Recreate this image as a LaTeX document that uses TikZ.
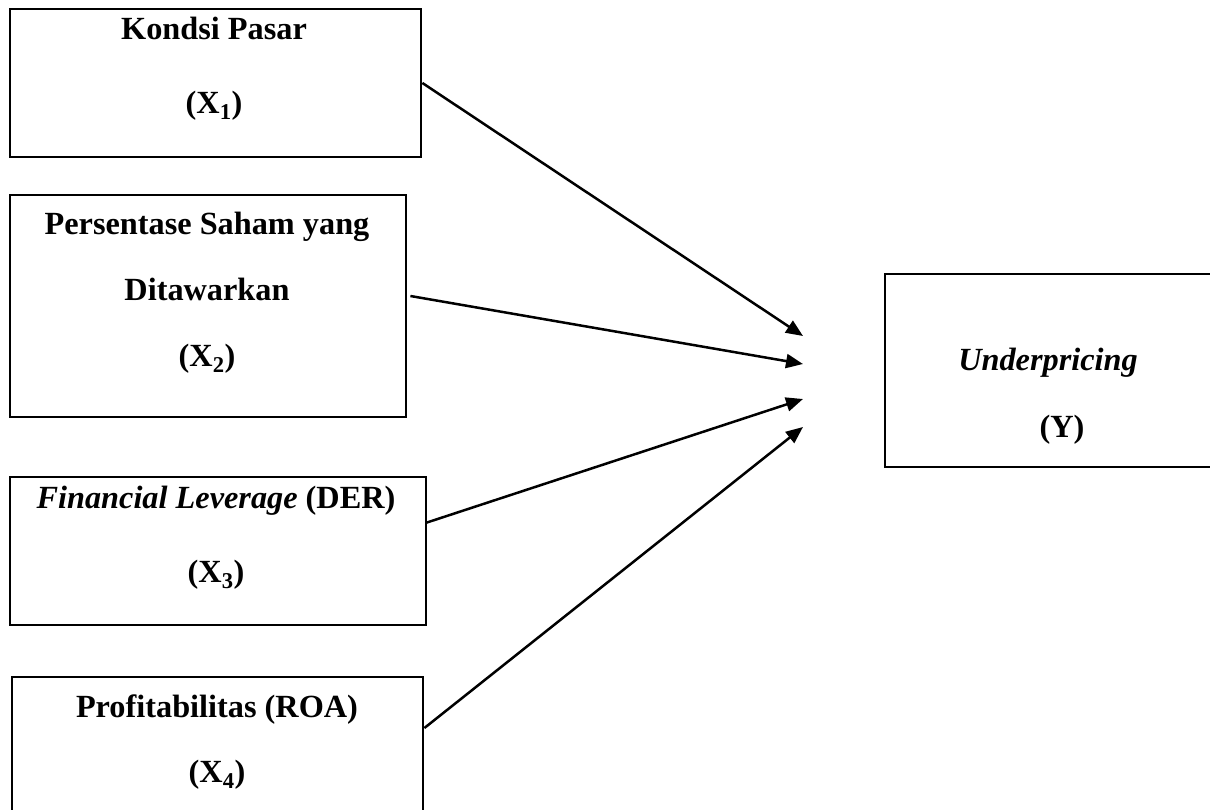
\documentclass[tikz,border=0pt]{standalone}
\usepackage{fontspec}
\setmainfont{Liberation Serif}
\usetikzlibrary{arrows.meta,calc}
\begin{document}
\begin{tikzpicture}[x=1pt,y=-1pt,
  box/.style={draw,line width=2.8pt,rectangle,inner sep=0pt},
  lbl/.style={anchor=base,inner sep=0pt,font=\fontsize{32.3}{36}\selectfont\bfseries},
  conn/.style={line width=2.5pt,-{Triangle[length=17pt,width=14pt]}}]
\useasboundingbox (0,0) rectangle (1210,809);
\clip (0,0) rectangle (1210,809);
% boxes
\node[box,minimum width=411pt,minimum height=148pt] (b1) at (215.5,83) {};
\node[box,minimum width=396pt,minimum height=222pt] (b2) at (208,306) {};
\node[box,minimum width=416pt,minimum height=148pt] (b3) at (218,551) {};
\node[box,minimum width=411pt,minimum height=148pt] (b4) at (217.5,751) {};
\node[box,minimum width=345pt,minimum height=193pt] (by) at (1057.5,370.5) {};
% labels
\node[lbl] (t1a) at (214,39) {Kondsi Pasar};
\node[lbl] (t1b) at (214,113) {(X\textsubscript{1})};
\node[lbl] (t2a) at (207,234) {Persentase Saham yang};
\node[lbl] (t2b) at (207,300) {Ditawarkan};
\node[lbl] (t2c) at (207,366) {(X\textsubscript{2})};
\node[lbl] (t3a) at (216,508) {\textit{Financial Leverage} (DER)};
\node[lbl] (t3b) at (216,582) {(X\textsubscript{3})};
\node[lbl] (t4a) at (217,717) {Profitabilitas (ROA)};
\node[lbl] (t4b) at (217,782) {(X\textsubscript{4})};
\node[lbl] (tya) at (1048,370) {\textit{Underpricing}};
\node[lbl] (tyb) at (1062,437) {(Y)};
% connector ends
\coordinate (s2) at ($(b2.east)+(3,-10)$);
\coordinate (s3) at ($(b3.east)+(-2,-28)$);
\coordinate (s4) at ($(b4.east)+(0,-23)$);
\coordinate (e1) at (803,336);
\coordinate (e2) at (803,364);
\coordinate (e3) at (803,399);
\coordinate (e4) at (803,427);
\draw[conn] (b1.east) -- (e1);
\draw[conn] (s2) -- (e2);
\draw[conn] (s3) -- (e3);
\draw[conn] (s4) -- (e4);
\end{tikzpicture}
\end{document}
